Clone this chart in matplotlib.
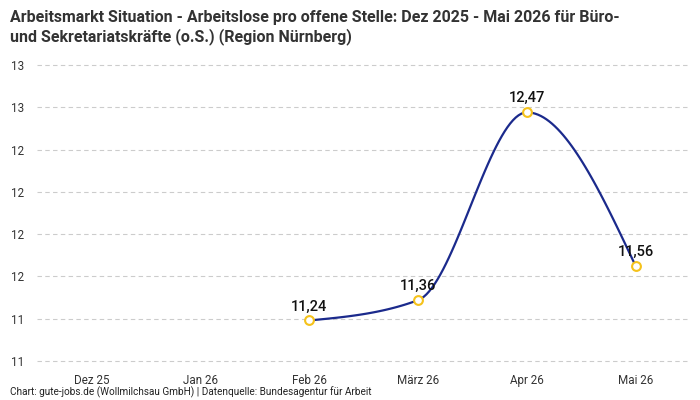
import numpy as np
import matplotlib.pyplot as plt
from matplotlib.ticker import FuncFormatter
from matplotlib import font_manager

months = ['Dez 25', 'Jan 26', 'Feb 26', 'März 26', 'Apr 26', 'Mai 26']
values = [np.nan, np.nan, 11.24, 11.36, 12.47, 11.56]
yticks = [11.0, 11.25, 11.5, 11.75, 12.0, 12.25, 12.5, 12.75]

names = {f.name for f in font_manager.fontManager.ttflist}
fam = ['Liberation Sans Narrow', 'DejaVu Sans'] if 'Liberation Sans Narrow' in names else ['Roboto', 'DejaVu Sans']
plt.rcParams['font.family'] = fam

line_col = '#1b2a8c'
dot_col = '#f5c21b'


def monotone(xs, ys, n=40):
    # monotone cubic curve between the points (like d3 curveMonotoneX)
    xs = np.asarray(xs, float)
    ys = np.asarray(ys, float)
    h = np.diff(xs)
    s = np.diff(ys) / h
    t = np.zeros(len(xs))
    for i in range(1, len(xs) - 1):
        p = (s[i - 1] * h[i] + s[i] * h[i - 1]) / (h[i - 1] + h[i])
        t[i] = (np.sign(s[i - 1]) + np.sign(s[i])) * min(abs(s[i - 1]), abs(s[i]), 0.5 * abs(p))
    t[0] = (3 * s[0] - t[1]) / 2
    t[-1] = (3 * s[-1] - t[-2]) / 2
    px, py = [], []
    for i in range(len(xs) - 1):
        u = np.linspace(0, 1, n)
        h00 = 2 * u**3 - 3 * u**2 + 1
        h10 = u**3 - 2 * u**2 + u
        h01 = -2 * u**3 + 3 * u**2
        h11 = u**3 - u**2
        px.extend(xs[i] + u * h[i])
        py.extend(h00 * ys[i] + h10 * h[i] * t[i] + h01 * ys[i + 1] + h11 * h[i] * t[i + 1])
    return px, py


fig = plt.figure(figsize=(7, 4), dpi=100)
ax = fig.add_axes([0.053, 0.0847, 0.933, 0.7655])

x = np.arange(len(months))
v = np.array(values)
ok = ~np.isnan(v)
cx, cy = monotone(x[ok], v[ok])
ax.plot(cx, cy, color=line_col, lw=1.6, zorder=3, clip_on=False)
ax.scatter(x[ok], v[ok], s=40, facecolor='white', edgecolor=dot_col, linewidth=1.5, zorder=4, clip_on=False)
for xi, vi in zip(x[ok], v[ok]):
    ax.annotate(f'{vi:.2f}'.replace('.', ','), (xi, vi), xytext=(0, 5), textcoords='offset points',
                ha='center', va='bottom', fontsize=10.5, fontweight='medium', color='#111111', zorder=5)

ax.set_xlim(-0.5, 5.5)
ax.set_ylim(10.97, 12.78)
ax.set_xticks(x)
ax.set_xticklabels(months)
ax.set_yticks(yticks)
ax.yaxis.set_major_formatter(FuncFormatter(lambda val, pos: str(int(np.floor(val + 0.5)))))
ax.tick_params(axis='both', length=0, labelsize=8.4, colors='#333333')
ax.tick_params(axis='x', pad=6)
for lab in ax.get_yticklabels():
    lab.set_horizontalalignment('left')
ax.yaxis.set_tick_params(pad=19)
ax.grid(axis='y', color='#cccccc', linestyle=(0, (4, 3)), lw=0.8)
ax.set_axisbelow(True)
for sp in ax.spines.values():
    sp.set_visible(False)

fig.text(0.014, 0.975, 'Arbeitsmarkt Situation - Arbeitslose pro offene Stelle: Dez 2025 - Mai 2026 für Büro-\n'
         'und Sekretariatskräfte (o.S.) (Region Nürnberg)',
         ha='left', va='top', fontsize=11.5, fontweight='bold', color='#333333', linespacing=1.25)
fig.text(0.014, 0.005, 'Chart: gute-jobs.de (Wollmilchsau GmbH) | Datenquelle: Bundesagentur für Arbeit',
         ha='left', va='bottom', fontsize=7.2, color='#222222')

fig.savefig('out.png', dpi=100)
